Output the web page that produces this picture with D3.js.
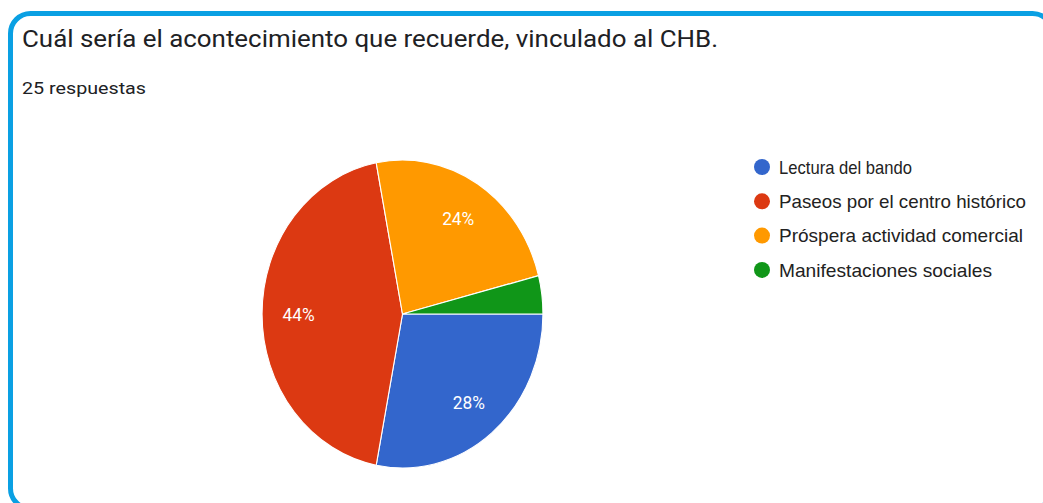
<!DOCTYPE html>
<html>
<head>
<meta charset="utf-8">
<script src="https://cdn.jsdelivr.net/npm/d3@7"></script>
<style>
  body { margin: 0; background: #fff; overflow: hidden; }
  svg { display: block; }
</style>
</head>
<body>
<svg width="1043" height="503"></svg>
<script>
// Data
var categories = ["Lectura del bando", "Paseos por el centro histórico", "Próspera actividad comercial", "Manifestaciones sociales"];
var counts = [7, 11, 6, 1];
var colors = ["#3366cc", "#dc3912", "#ff9900", "#109618"];
var totalLabel = "25 respuestas";
var title = "Cuál sería el acontecimiento que recuerde, vinculado al CHB.";

var svg = d3.select("svg"),
    width = +svg.attr("width"),
    height = +svg.attr("height");

// Frame (cut off on the right and bottom, like the screenshot)
svg.append("rect")
    .attr("x", 10.5)
    .attr("y", 13.5)
    .attr("width", 1042)
    .attr("height", 495)
    .attr("rx", 20)
    .attr("fill", "#fff")
    .attr("stroke", "#0aa0e3")
    .attr("stroke-width", 5);

// Title
svg.append("text")
    .attr("x", 22)
    .attr("y", 47)
    .attr("font-family", "Roboto")
    .attr("font-size", 24)
    .attr("fill", "#202124")
    .attr("textLength", 696)
    .attr("lengthAdjust", "spacingAndGlyphs")
    .text(title);

svg.append("text")
    .attr("x", 22)
    .attr("y", 94)
    .attr("font-family", "Roboto")
    .attr("font-size", 16.5)
    .attr("fill", "#202124")
    .attr("textLength", 124)
    .attr("lengthAdjust", "spacingAndGlyphs")
    .text(totalLabel);

// Pie
var radius = 154;
var total = d3.sum(counts);
var color = d3.scaleOrdinal().domain(categories).range(colors);

var pie = d3.pie()
    .sort(null)
    .startAngle(Math.PI / 2)
    .endAngle(Math.PI / 2 + 2 * Math.PI)
    .value(function (d) { return d.value; });

var arc = d3.arc().innerRadius(0).outerRadius(radius);
var labelArc = d3.arc().innerRadius(114).outerRadius(114);

var data = categories.map(function (c, i) { return {name: c, value: counts[i]}; });

var g = svg.append("g")
    .attr("transform", "translate(402.5,314) scale(0.912,1)");

g.selectAll("path")
    .data(pie(data))
    .enter().append("path")
    .attr("d", arc)
    .attr("fill", function (d) { return color(d.data.name); })
    .attr("stroke", "#fff")
    .attr("stroke-width", 1.2);

g.selectAll("text.pct")
    .data(pie(data).filter(function (d) { return d.data.value / total >= 0.05; }))
    .enter().append("text")
    .attr("class", "pct")
    .attr("transform", function (d) { return "translate(" + labelArc.centroid(d) + ")"; })
    .attr("text-anchor", "middle")
    .attr("dy", "0.36em")
    .attr("font-family", "Roboto")
    .attr("font-size", 19)
    .attr("fill", "#fff")
    .text(function (d) { return Math.round(d.data.value / total * 100) + "%"; });

// Legend
var legend = svg.append("g")
    .attr("transform", "translate(762,167)");

var rows = legend.selectAll("g")
    .data(categories)
    .enter().append("g")
    .attr("transform", function (d, i) { return "translate(0," + (i * 34.3) + ")"; });

rows.append("circle")
    .attr("r", 8)
    .attr("fill", function (d) { return color(d); });

var legendWidths = [133, 247, 244, 213];
rows.append("text")
    .attr("x", 17)
    .attr("dy", "0.36em")
    .attr("font-family", "Arial, 'Liberation Sans'")
    .attr("font-size", 19)
    .attr("fill", "#222")
    .attr("textLength", function (d, i) { return legendWidths[i]; })
    .attr("lengthAdjust", "spacingAndGlyphs")
    .text(function (d) { return d; });
</script>
</body>
</html>
